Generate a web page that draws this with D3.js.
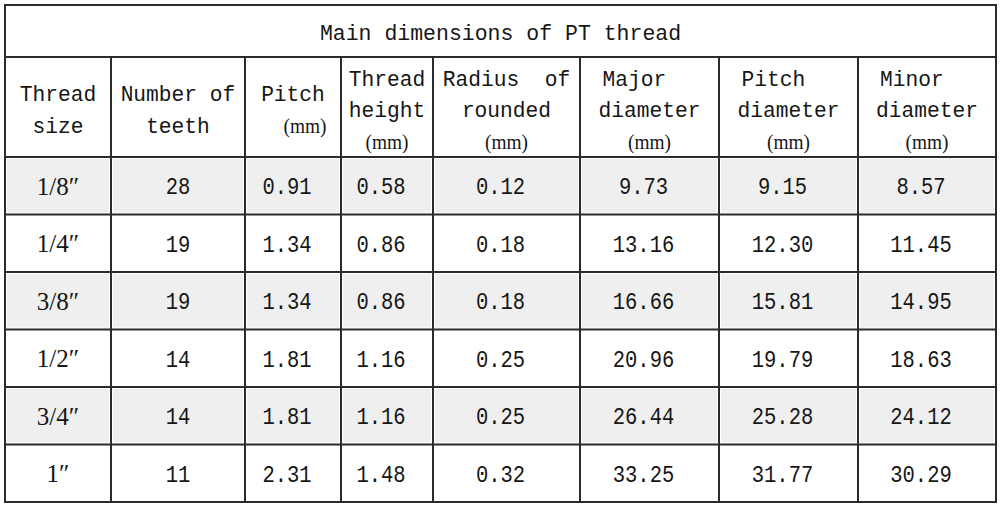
<!DOCTYPE html>
<html>
<head>
<meta charset="utf-8">
<script src="https://cdn.jsdelivr.net/npm/d3@7"></script>
<style>
  html, body { margin: 0; padding: 0; background: #fff; }
  svg { display: block; }
</style>
</head>
<body>
<div id="chart"></div>
<script>
// table values
const title = 'Main dimensions of PT thread';
const threadSize = ['1/8\u2033', '1/4\u2033', '3/8\u2033', '1/2\u2033', '3/4\u2033', '1\u2033'];
const teeth = [28, 19, 19, 14, 14, 11];
const pitch = [0.91, 1.34, 1.34, 1.81, 1.81, 2.31];
const threadHeight = [0.58, 0.86, 0.86, 1.16, 1.16, 1.48];
const radius = [0.12, 0.18, 0.18, 0.25, 0.25, 0.32];
const majorDia = [9.73, 13.16, 16.66, 20.96, 26.44, 33.25];
const pitchDia = [9.15, 12.30, 15.81, 19.79, 25.28, 31.77];
const minorDia = [8.57, 11.45, 14.95, 18.63, 24.12, 30.29];

// header lines per column, '(mm)' drawn in a serif face
const headers = [
    ['Thread', 'size'],
    ['Number of', 'teeth'],
    ['Pitch', '(mm)'],
    ['Thread', 'height', '(mm)'],
    ['Radius  of', 'rounded', '(mm)'],
    ['Major', 'diameter', '(mm)'],
    ['Pitch', 'diameter', '(mm)'],
    ['Minor', 'diameter', '(mm)']
];

const columns = [threadSize, teeth, pitch, threadHeight, radius, majorDia, pitchDia, minorDia];

// layout
const width = 1000, height = 509;
const tLeft = 5, tTop = 5, titleBottom = 57, headBottom = 157, tBottom = 502;
const colWidths = [106, 134, 96, 92, 147, 139, 139, 138];
const edges = [tLeft].concat(Array.from(d3.cumsum(colWidths), d => tLeft + d));
const tRight = edges[edges.length - 1];
const lineColor = '#2b2b2b';
const textColor = '#161616';
const mono = '"Liberation Mono", "DejaVu Sans Mono", monospace';
const serif = '"Liberation Serif", "DejaVu Serif", serif';
const charW = 12.75;   // advance of one monospaced header char

const x = d3.scaleOrdinal().domain(d3.range(columns.length)).range(edges.slice(0, -1));
const y = d3.scaleBand().domain(d3.range(threadSize.length)).range([headBottom, tBottom]);

const svg = d3.select('#chart').append('svg')
    .attr('width', width)
    .attr('height', height)
    .attr('viewBox', `0 0 ${width} ${height}`);

svg.append('rect').attr('width', width).attr('height', height).attr('fill', '#fff');

// striped rows
const cells = [];
threadSize.forEach((_, r) => columns.forEach((col, c) => cells.push({ r, c, v: col[r] })));

svg.append('g').selectAll('rect')
    .data(cells.filter(d => d.r % 2 === 0))
    .join('rect')
    .attr('x', d => x(d.c) + 2)
    .attr('y', d => y(d.r) + 2)
    .attr('width', d => colWidths[d.c] - 4)
    .attr('height', y.bandwidth() - 4)
    .attr('fill', '#efefef');

// grid
const grid = svg.append('g').attr('stroke', lineColor).attr('stroke-width', 2).attr('fill', 'none');
grid.append('rect')
    .attr('x', tLeft).attr('y', tTop)
    .attr('width', tRight - tLeft).attr('height', tBottom - tTop);
grid.append('line').attr('x1', tLeft).attr('x2', tRight).attr('y1', titleBottom).attr('y2', titleBottom);
grid.selectAll('line.h')
    .data(d3.range(threadSize.length))
    .join('line')
    .attr('class', 'h')
    .attr('x1', tLeft).attr('x2', tRight)
    .attr('y1', d => y(d)).attr('y2', d => y(d));
grid.selectAll('line.v')
    .data(edges.slice(1, -1))
    .join('line')
    .attr('class', 'v')
    .attr('x1', d => d).attr('x2', d => d)
    .attr('y1', titleBottom).attr('y2', tBottom);

// title
svg.append('text')
    .attr('x', (tLeft + tRight) / 2)
    .attr('y', (tTop + titleBottom) / 2 + 1)
    .attr('dy', '0.35em')
    .attr('text-anchor', 'middle')
    .attr('font-family', mono)
    .attr('font-size', 22.5)
    .attr('textLength', title.length * 12.9)
    .attr('lengthAdjust', 'spacingAndGlyphs')
    .attr('fill', textColor)
    .text(title);

// header lines
const headG = svg.append('g').attr('fill', textColor);
headers.forEach((lines, c) => {
    const cx = x(c) + colWidths[c] / 2;
    const gap = 31.5;
    const mid = (titleBottom + headBottom) / 2 + 2.5;
    const y0 = mid - gap * (lines.length - 1) / 2;
    // diameter columns: first word hangs from the left of 'diameter'
    const hang = lines[1] === 'diameter';
    headG.append('g').selectAll('text')
        .data(lines)
        .join('text')
        .attr('x', (d, i) => {
            if (hang && i === 0) return cx - lines[1].length * charW / 2 + 4;
            if (c === 2 && i === 1) return cx + 12;
            return cx;
        })
        .attr('text-anchor', (d, i) => hang && i === 0 ? 'start' : 'middle')
        .attr('y', (d, i) => y0 + i * gap)
        .attr('dy', '0.35em')
        .style('white-space', 'pre')
        .attr('font-family', d => d === '(mm)' ? serif : mono)
        .attr('font-size', d => d === '(mm)' ? 22 : 21.5)
        .attr('textLength', d => d === '(mm)' ? 43 : d.length * charW)
        .attr('lengthAdjust', 'spacingAndGlyphs')
        .text(d => d);
});

// body values
const fmt = d3.format('.2f');
const label = d => typeof d.v === 'number' && d.c >= 2 ? fmt(d.v) : String(d.v);
svg.append('g').selectAll('text')
    .data(cells)
    .join('text')
    .attr('x', d => x(d.c) + colWidths[d.c] / 2 + (d.c >= 2 ? -6 : 0))
    .attr('y', d => y(d.r) + y.bandwidth() / 2)
    .attr('dy', '0.36em')
    .attr('text-anchor', 'middle')
    .attr('font-family', d => d.c === 0 ? serif : mono)
    .attr('font-size', d => d.c === 0 ? 25 : 23.5)
    .attr('textLength', d => d.c === 0 ? null : label(d).length * 12.3)
    .attr('lengthAdjust', 'spacingAndGlyphs')
    .attr('fill', textColor)
    .text(label);
</script>
</body>
</html>
